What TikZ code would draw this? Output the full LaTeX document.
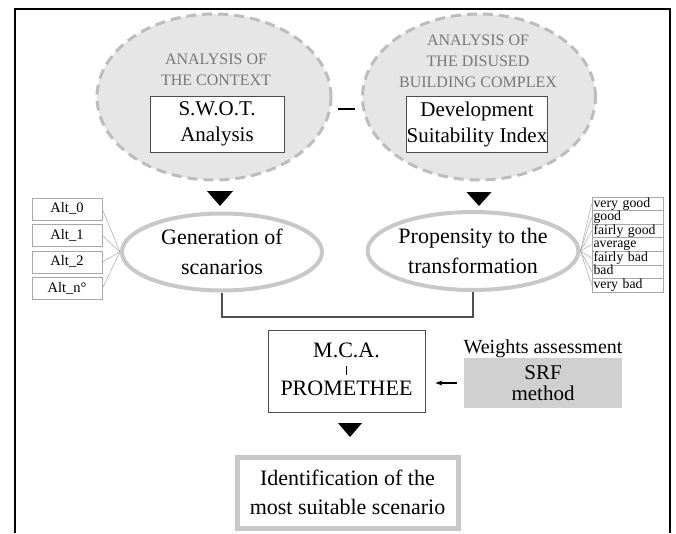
\documentclass[tikz,border=0pt]{standalone}
\usepackage{fontspec}
\setmainfont{Liberation Serif}
\usetikzlibrary{shapes.geometric,arrows.meta}
\definecolor{dashgray}{HTML}{BDBDBD}
\definecolor{fillgray}{HTML}{E6E6E6}
\definecolor{capgray}{HTML}{777777}
\definecolor{ringgray}{HTML}{C8C8C8}
\definecolor{srfgray}{HTML}{D0D0D0}
\definecolor{listgray}{HTML}{A8A8A8}
\definecolor{linegray}{HTML}{505050}
\tikzset{
  ctxell/.style={ellipse, draw=dashgray, fill=fillgray, line width=3pt, dash pattern=on 10pt off 6pt, inner sep=0pt},
  capt/.style={text=capgray, font=\fontsize{16}{21}\selectfont, align=center, inner sep=0pt},
  toolbox/.style={draw=black!70, fill=white, line width=0.8pt, font=\fontsize{21}{26}\selectfont, align=center, inner sep=0pt},
  ring/.style={ellipse, draw=ringgray, line width=4pt, fill=white, inner sep=0pt, font=\fontsize{22}{30}\selectfont, align=center},
  altbox/.style={draw=listgray, line width=0.6pt, minimum width=70pt, minimum height=22pt, inner sep=0pt, text height=10pt, text depth=3pt, font=\fontsize{14.5}{16}\selectfont},
  rowbox/.style={draw=listgray, line width=0.6pt, minimum width=71pt, minimum height=13.57pt, inner xsep=1.5pt, inner ysep=0pt, text width=68pt, align=left, text height=9.6pt, text depth=3.2pt, font=\fontsize{13.8}{14}\selectfont},
  fan/.style={draw=listgray, line width=0.5pt},
  bracket/.style={draw=linegray, line width=1.2pt},
  dropmark/.style={fill=black},
  plainbox/.style={draw=black!70, line width=0.8pt, inner sep=0pt},
  bigtext/.style={font=\fontsize{22}{29}\selectfont, align=center, inner sep=0pt},
}
\begin{document}
\begin{tikzpicture}[x=1pt,y=-1pt]
\useasboundingbox (0,0) rectangle (676,533);
\fill[white] (0,0) rectangle (676,533);
% frame
\coordinate (fbl) at (15,533);
\coordinate (ftl) at (15,9);
\coordinate (ftr) at (670,9);
\coordinate (fbr) at (670,533);
\draw[line width=2.5pt] (fbl) -- (ftl) -- (ftr) -- (fbr);

% top ellipses
\node[ctxell, minimum width=234pt, minimum height=166pt] (ctx) at (214,97) {};
\node[ctxell, minimum width=233pt, minimum height=166pt] (bld) at (479,97) {};
\node[capt] (ctxlab) at (216,70) {ANALYSIS OF\\THE CONTEXT};
\node[capt] (bldlab) at (478,61) {ANALYSIS OF\\THE DISUSED\\BUILDING COMPLEX};
\node[toolbox, minimum width=134pt, minimum height=56pt] (swot) at (217,124) {S.W.O.T.\\Analysis};
\node[toolbox, minimum width=136pt, minimum height=56pt] (dsi) at (477,124) {Development\\Suitability Index};
\draw[line width=1.5pt] ([xshift=5pt,yshift=-12pt]ctx.east) -- ([xshift=-6pt,yshift=-12pt]bld.west);

% drop marks
\coordinate (d1) at (220,191);
\coordinate (d2) at (479,192);
\coordinate (d3) at (350,423);
\fill[dropmark] ([xshift=-13pt]d1) -- ([xshift=13pt]d1) -- ([yshift=-15pt]d1) -- cycle;
\fill[dropmark] ([xshift=-12.5pt]d2) -- ([xshift=12.5pt]d2) -- ([yshift=-14pt]d2) -- cycle;
\fill[dropmark] ([xshift=-12pt]d3) -- ([xshift=12pt]d3) -- ([yshift=-14pt]d3) -- cycle;

% middle ellipses
\node[ring, minimum width=200pt, minimum height=77pt] (gen) at (222,252) {Generation of\\scanarios};
\node[ring, minimum width=206pt, minimum height=78pt] (prop) at (473,251) {Propensity to the\\transformation};

% alternatives
\node[altbox] (a0) at (67,209) {Alt\_0};
\node[altbox] (a1) at (67,235.5) {Alt\_1};
\node[altbox] (a2) at (67,262) {Alt\_2};
\node[altbox] (an) at (67,288.5) {Alt\_n°};
\foreach \n in {a0,a1,a2,an} \draw[fan] (\n.east) -- (gen.west);

% judgement scale
\node[rowbox] (r1) at (627.5,203.8) {very good};
\node[rowbox] (r2) at (627.5,217.4) {good};
\node[rowbox] (r3) at (627.5,230.9) {fairly good};
\node[rowbox] (r4) at (627.5,244.5) {average};
\node[rowbox] (r5) at (627.5,258.1) {fairly bad};
\node[rowbox] (r6) at (627.5,271.6) {bad};
\node[rowbox] (r7) at (627.5,285.2) {very bad};
\foreach \n in {r1,r2,r3,r4,r5,r6,r7} \draw[fan] (prop.east) -- (\n.west);

% bracket
\coordinate (brk) at (0,317);
\draw[bracket] (gen.south) -- (gen.south |- brk) -| (prop.south);

% MCA
\node[plainbox, minimum width=157pt, minimum height=82pt] (mca) at (346.5,371) {};
\node[bigtext] (mcat) at (346.5,350) {M.C.A.};
\node[bigtext] (mcab) at (346.5,388) {PROMETHEE};
\coordinate (bart) at (346.5,366);
\coordinate (barb) at (346.5,375);
\draw[line width=0.6pt] (bart) -- (barb);

% SRF
\node[fill=srfgray, minimum width=158pt, minimum height=50pt, inner sep=0pt, font=\fontsize{21}{21}\selectfont, align=center] (srf) at (543,383) {SRF\\method};
\node[font=\fontsize{20}{24}\selectfont, inner sep=0pt] (wlab) at (543,349) {Weights assessment};
\draw[line width=1.2pt, -{Stealth[length=7pt,width=5pt]}] ([xshift=-7pt]srf.west) -- ([xshift=10pt]mca.east |- srf.west);

% final
\node[draw=ringgray, line width=5pt, minimum width=221pt, minimum height=71pt, inner sep=0pt, bigtext] (fin) at (347.5,492.5) {Identification of the\\most suitable scenario};
\end{tikzpicture}
\end{document}
